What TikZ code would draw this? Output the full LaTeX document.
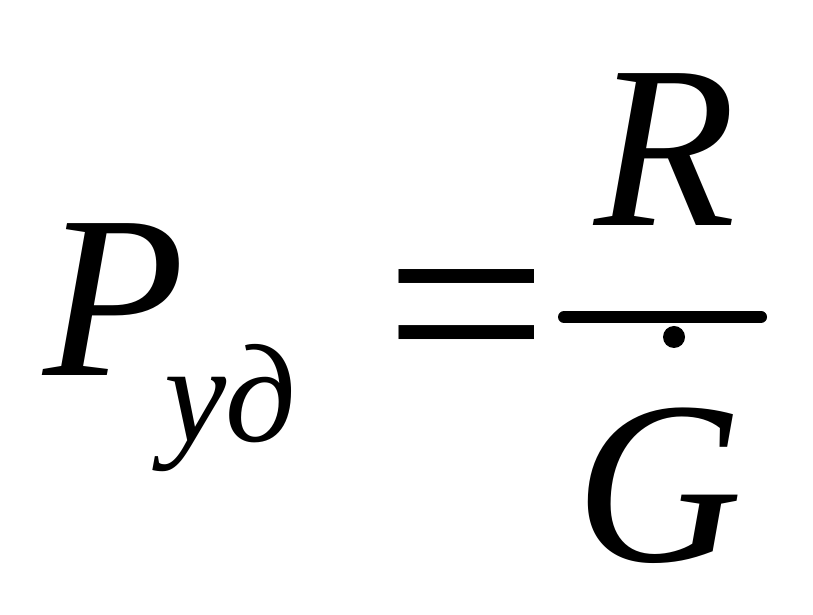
\documentclass[tikz,border=0pt]{standalone}
\usepackage{fontspec}
\setmainfont{Liberation Serif}
\begin{document}
\begin{tikzpicture}[x=1pt,y=1pt,
  glyph/.style={inner sep=0pt, outer sep=0pt, anchor=base west, font=\fontsize{232}{232}\selectfont\itshape},
  subglyph/.style={inner sep=0pt, outer sep=0pt, anchor=base west, font=\fontsize{140}{140}\selectfont\itshape}]
\useasboundingbox[fill=white] (0,0) rectangle (813,615);
\node[glyph] (P) at (43,239) {P};
\node[subglyph] (sub) at (164,173) {уд};
\node[inner sep=0pt, anchor=base west, font=\fontsize{280}{280}\selectfont] (eq) at (384,217) {\scalebox{1.04}[1]{=}};
\node[glyph] (R) at (594,389) {R};
\node[glyph] (G) at (575,53) {G};
\coordinate (barL) at (564,298);
\coordinate (barR) at (761,298);
\draw[line width=12pt, line cap=round] (barL) -- (barR);
\fill (674,278) circle (11);
\end{tikzpicture}
\end{document}
